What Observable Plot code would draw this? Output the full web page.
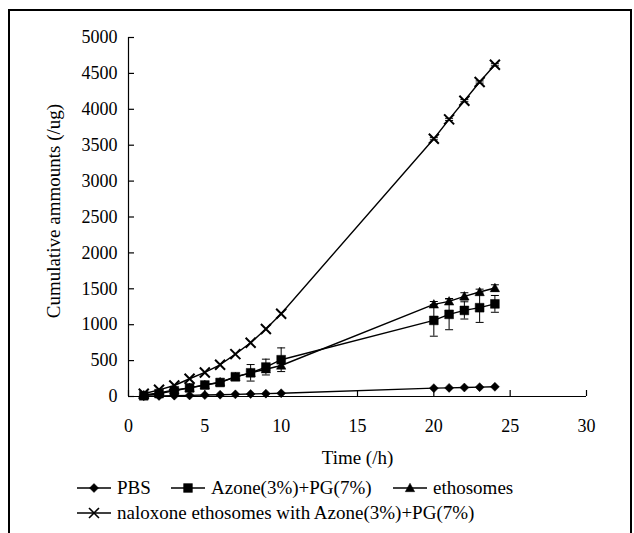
<!DOCTYPE html>
<html>
<head>
<meta charset="utf-8">
<script src="https://cdn.jsdelivr.net/npm/d3@7"></script>
<script src="https://cdn.jsdelivr.net/npm/@observablehq/plot@0.6"></script>
<style>
html, body { margin: 0; padding: 0; background: #fff; overflow: hidden; }
#wrap { position: relative; width: 634px; height: 533px; overflow: hidden; font-family: "Liberation Serif", "Times New Roman", serif; color: #000; }
#frame { position: absolute; left: 8px; top: 9px; width: 624px; height: 600px; border: 2px solid #000; border-bottom: none; box-sizing: border-box; pointer-events: none; }
#chart { position: absolute; left: 0; top: 0; }
.item { position: absolute; height: 24px; line-height: 24px; font-size: 19px; display: flex; align-items: center; white-space: nowrap; }
.item svg { display: block; margin-right: 6px; }
</style>
</head>
<body>
<div id="wrap">
  <div id="chart"></div>
  <div id="legend"></div>
  <div id="frame"></div>
</div>
<script>
// ---- data ----
const hours = [1, 2, 3, 4, 5, 6, 7, 8, 9, 10, 20, 21, 22, 23, 24];
const seriesNames = ["PBS", "Azone(3%)+PG(7%)", "ethosomes", "naloxone ethosomes with Azone(3%)+PG(7%)"];
const pbs = [5, 8, 12, 15, 20, 25, 30, 35, 40, 45, 116, 120, 125, 130, 135];
const pbsErr = [0, 0, 0, 0, 0, 0, 0, 0, 0, 0, 0, 0, 0, 0, 0];
const azone = [10, 40, 80, 120, 160, 195, 275, 330, 410, 512, 1060, 1144, 1199, 1237, 1290];
const azoneErr = [5, 8, 10, 12, 15, 15, 20, 115, 110, 165, 220, 214, 120, 205, 117];
const ethosomes = [20, 50, 90, 120, 160, 200, 270, 330, 380, 432, 1283, 1325, 1395, 1455, 1511];
const ethosomesErr = [5, 5, 8, 10, 10, 10, 15, 20, 25, 40, 40, 40, 50, 40, 45];
const naloxone = [38, 93, 153, 247, 335, 442, 590, 749, 939, 1153, 3590, 3860, 4120, 4380, 4620];
const naloxoneErr = [0, 0, 0, 0, 0, 0, 0, 0, 0, 0, 15, 15, 15, 15, 15];
const xTicks = [0, 5, 10, 15, 20, 25, 30];
const yTicks = [0, 500, 1000, 1500, 2000, 2500, 3000, 3500, 4000, 4500, 5000];
const xLabel = "Time (/h)";
const yLabel = "Cumulative ammounts (/ug)";

// ---- symbols ----
const symDiamond = { draw(c) { const h = 4.5; c.moveTo(0, -h); c.lineTo(h, 0); c.lineTo(0, h); c.lineTo(-h, 0); c.closePath(); } };
const symSquare = { draw(c) { const h = 4.4; c.moveTo(-h, -h); c.lineTo(h, -h); c.lineTo(h, h); c.lineTo(-h, h); c.closePath(); } };
const symTriangle = { draw(c) { c.moveTo(0, -4.8); c.lineTo(4.7, 3.7); c.lineTo(-4.7, 3.7); c.closePath(); } };
const symCross = { draw(c) { const h = 5; c.moveTo(-h, -h); c.lineTo(h, h); c.moveTo(h, -h); c.lineTo(-h, h); } };
const symCap = { draw(c) { c.moveTo(-4, 0); c.lineTo(4, 0); } };

const valueSets = [pbs, azone, ethosomes, naloxone];
const errSets = [pbsErr, azoneErr, ethosomesErr, naloxoneErr];
const symbols = [symDiamond, symSquare, symTriangle, symCross];

const rows = [];
seriesNames.forEach((s, i) => {
  hours.forEach((h, j) => rows.push({ series: s, idx: i, time: h, value: valueSets[i][j], err: errSets[i][j] }));
});
const errRows = rows.filter(d => d.err > 0);

const dotMarks = seriesNames.map((s, i) =>
  Plot.dot(rows.filter(d => d.idx === i), {
    x: "time", y: "value", symbol: () => symbols[i], r: 4,
    fill: i === 3 ? "none" : "black", stroke: "black", strokeWidth: i === 3 ? 2 : 0.5
  })
);

const plot = Plot.plot({
  width: 634,
  height: 475,
  marginLeft: 128,
  marginRight: 48,
  marginTop: 37,
  marginBottom: 79,
  style: { fontFamily: "Liberation Serif, Times New Roman, serif", fontSize: "18px", color: "#000", background: "transparent", overflow: "visible" },
  x: { domain: [0, 30] },
  y: { domain: [0, 5000] },
  symbol: { type: "identity" },
  marks: [
    // axis lines
    Plot.ruleY([0], { x1: 0, x2: 30, stroke: "black", strokeWidth: 1.2 }),
    Plot.ruleX([0], { y1: 0, y2: 5000, stroke: "black", strokeWidth: 1.2 }),
    // inside ticks
    Plot.axisY({ ticks: yTicks, tickSize: 6, dx: 6, text: null, label: null, strokeWidth: 1.2 }),
    Plot.axisX({ ticks: xTicks, tickSize: 6, dy: -6, text: null, label: null, strokeWidth: 1.2 }),
    // tick labels
    Plot.axisY({ ticks: yTicks, tickSize: 0, tickPadding: 11, label: null, fontSize: 18, tickFormat: d => String(d) }),
    Plot.axisX({ ticks: xTicks, tickSize: 0, tickPadding: 23, label: null, fontSize: 18, tickFormat: d => String(d) }),
    // axis titles
    Plot.text([yLabel], { frameAnchor: "left", dx: -75, dy: -6, rotate: -90, text: d => d, fontSize: 19, lineAnchor: "middle", textAnchor: "middle" }),
    Plot.text([xLabel], { frameAnchor: "bottom", dy: 61, text: d => d, fontSize: 19, lineAnchor: "middle", textAnchor: "middle" }),
    // error bars
    Plot.ruleX(errRows, { x: "time", y1: d => d.value - d.err, y2: d => d.value + d.err, stroke: "black", strokeWidth: 1 }),
    Plot.dot(errRows, { x: "time", y: d => d.value + d.err, symbol: () => symCap, stroke: "black", strokeWidth: 1, fill: "none" }),
    Plot.dot(errRows, { x: "time", y: d => d.value - d.err, symbol: () => symCap, stroke: "black", strokeWidth: 1, fill: "none" }),
    // lines
    Plot.line(rows, { x: "time", y: "value", z: "series", stroke: "black", strokeWidth: 1.4 }),
    ...dotMarks
  ]
});
document.getElementById("chart").appendChild(plot);

// ---- legend (HTML below the chart) ----
const legendPos = [
  { left: 77, top: 476 },
  { left: 171, top: 476 },
  { left: 393, top: 476 },
  { left: 77, top: 501 }
];
const legend = document.getElementById("legend");
seriesNames.forEach((s, i) => {
  const item = document.createElement("div");
  item.className = "item";
  item.style.left = legendPos[i].left + "px";
  item.style.top = legendPos[i].top + "px";
  const sw = d3.create("svg").attr("width", 34).attr("height", 14);
  sw.append("line").attr("x1", 0).attr("x2", 34).attr("y1", 7).attr("y2", 7).attr("stroke", "black").attr("stroke-width", 1.4);
  sw.append("path").attr("transform", "translate(17,7)")
    .attr("d", d3.symbol().type(symbols[i]).size(16)())
    .attr("fill", i === 3 ? "none" : "black").attr("stroke", "black").attr("stroke-width", i === 3 ? 1.6 : 0.5);
  item.appendChild(sw.node());
  const t = document.createElement("span");
  t.textContent = s;
  item.appendChild(t);
  legend.appendChild(item);
});
</script>
</body>
</html>
